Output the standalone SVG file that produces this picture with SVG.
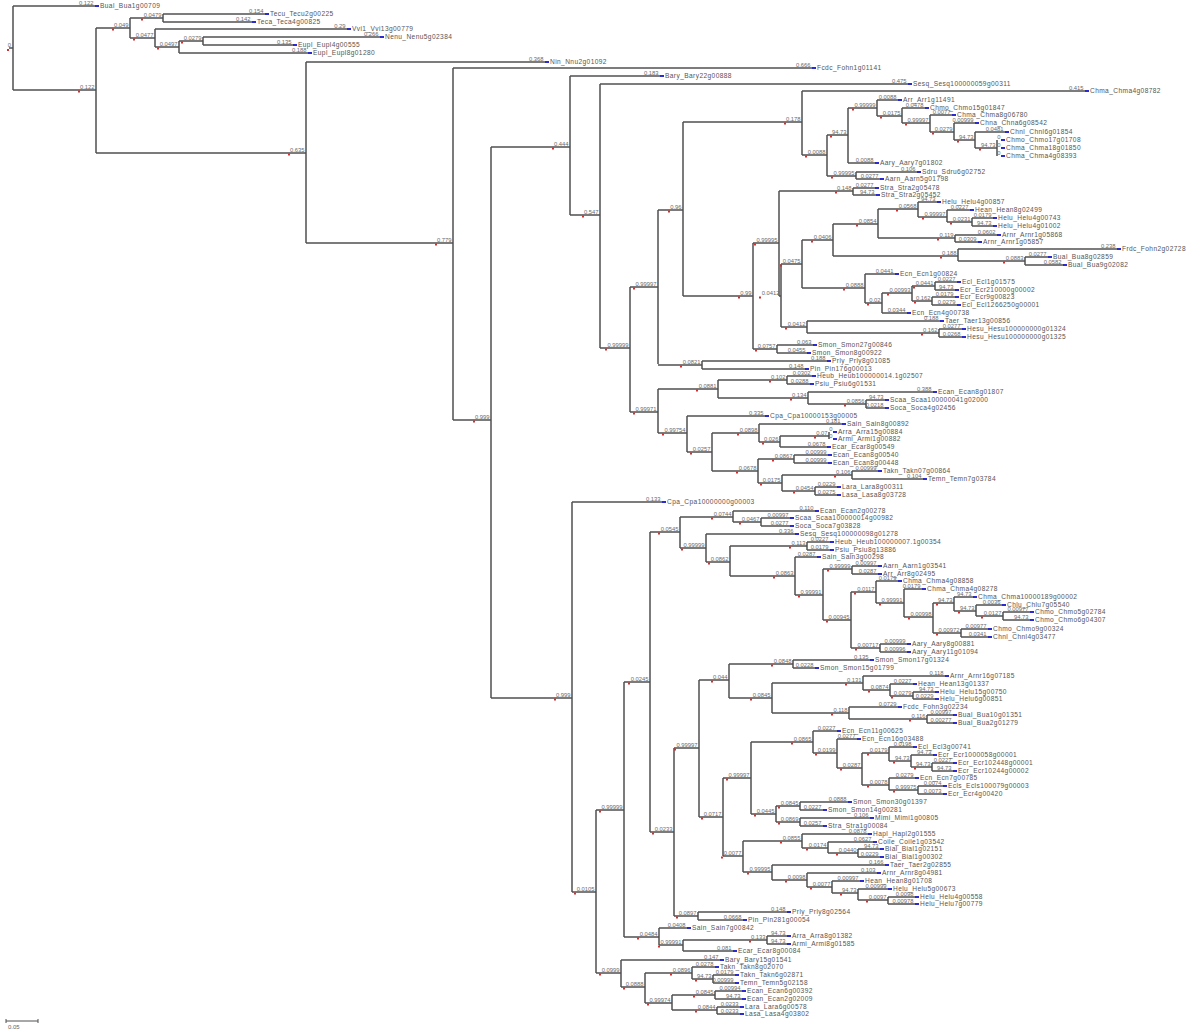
<svg xmlns="http://www.w3.org/2000/svg" width="1200" height="1032" viewBox="0 0 1200 1032">
<style>
.br{fill:none;stroke:#505050;stroke-width:1.5}
.bl{font-family:"Liberation Sans",Arial,sans-serif;font-size:5.8px;fill:#6a6a6a;text-anchor:end}
.ln{font-family:"Liberation Sans",Arial,sans-serif;font-size:6.6px;fill:#555;letter-spacing:0.4px}
.nd{fill:#d03030;width:2px;height:2px}
.lm{fill:#2a2ad0;width:4px;height:2px}
</style>
<rect width="1200" height="1032" fill="#fff"/>
<g id="connectors" class="br">
<path d="M9 48H13M13 6V90"/>
<path d="M13 90H96M96 28V153"/>
<path d="M96 28H130M130 18V38"/>
<path d="M130 18H163M163 14V22"/>
<path d="M130 38H155M155 29V47"/>
<path d="M155 47H179M179 41V53"/>
<path d="M179 41H203M203 37V45"/>
<path d="M96 153H306M306 62V243"/>
<path d="M306 243H453M453 68V420"/>
<path d="M453 420H491M491 147V698"/>
<path d="M491 147H570M570 76V215"/>
<path d="M570 215H600M600 84V348"/>
<path d="M600 348H630M630 287V412"/>
<path d="M630 287H658M658 210V364"/>
<path d="M658 210H683M683 122V296"/>
<path d="M683 122H802M802 91V155"/>
<path d="M802 155H827M827 135V176"/>
<path d="M827 135H848M848 108V163"/>
<path d="M848 108H877M877 100V116"/>
<path d="M877 116H902M902 108V123"/>
<path d="M902 123H930M930 115V132"/>
<path d="M930 132H954M954 123V140"/>
<path d="M954 140H975M975 132V148"/>
<path d="M975 148H997M997 140V156"/>
<path d="M827 176H856M856 172V179"/>
<path d="M683 296H753M753 243V349"/>
<path d="M753 243H779M779 191V296"/>
<path d="M779 191H853M853 188V195"/>
<path d="M779 296H781M781 264V327"/>
<path d="M781 264H802M802 240V288"/>
<path d="M802 240H833M833 224V256"/>
<path d="M833 224H878M878 209V238"/>
<path d="M878 209H918M918 202V217"/>
<path d="M918 217H947M947 210V222"/>
<path d="M947 222H972M972 218V226"/>
<path d="M878 238H955M955 235V242"/>
<path d="M833 256H958M958 249V261"/>
<path d="M958 261H1025M1025 257V265"/>
<path d="M802 288H865M865 274V303"/>
<path d="M865 303H882M882 293V313"/>
<path d="M882 293H912M912 286V301"/>
<path d="M912 286H935M935 282V290"/>
<path d="M912 301H932M932 297V305"/>
<path d="M781 327H807M807 321V333"/>
<path d="M807 333H939M939 329V337"/>
<path d="M753 349H777M777 345V353"/>
<path d="M658 365H702M702 361V369"/>
<path d="M630 412H658M658 389V433"/>
<path d="M658 389H718M718 380V398"/>
<path d="M718 380H787M787 376V384"/>
<path d="M718 398H808M808 392V404"/>
<path d="M808 404H866M866 400V408"/>
<path d="M658 433H687M687 416V452"/>
<path d="M687 452H712M712 433V471"/>
<path d="M712 433H759M759 424V442"/>
<path d="M759 442H780M780 436V447"/>
<path d="M780 436H829M829 432V439"/>
<path d="M712 471H758M758 459V483"/>
<path d="M758 459H794M794 455V463"/>
<path d="M758 483H782M782 475V491"/>
<path d="M782 475H852M852 471V479"/>
<path d="M782 491H815M815 487V495"/>
<path d="M491 698H572M572 502V892"/>
<path d="M572 892H596M596 810V973"/>
<path d="M596 810H624M624 682V937"/>
<path d="M624 682H650M650 532V832"/>
<path d="M650 532H680M680 517V548"/>
<path d="M680 517H733M733 511V522"/>
<path d="M733 522H761M761 518V526"/>
<path d="M680 548H706M706 534V562"/>
<path d="M706 562H730M730 546V576"/>
<path d="M730 546H807M807 542V550"/>
<path d="M730 576H795M795 557V595"/>
<path d="M795 595H823M823 569V620"/>
<path d="M823 569H852M852 566V574"/>
<path d="M823 620H851M851 592V648"/>
<path d="M851 592H876M876 581V603"/>
<path d="M876 603H904M904 589V617"/>
<path d="M904 617H933M933 603V633"/>
<path d="M933 603H954M954 597V611"/>
<path d="M954 611H976M976 605V616"/>
<path d="M976 616H1003M1003 612V620"/>
<path d="M933 633H961M961 629V637"/>
<path d="M851 648H880M880 644V652"/>
<path d="M650 832H674M674 748V916"/>
<path d="M674 748H699M699 680V817"/>
<path d="M699 680H729M729 664V698"/>
<path d="M729 664H793M793 660V668"/>
<path d="M729 698H772M772 683V713"/>
<path d="M772 683H863M863 676V690"/>
<path d="M863 690H890M890 684V696"/>
<path d="M890 696H913M913 692V699"/>
<path d="M772 713H849M849 707V719"/>
<path d="M849 719H927M927 715V723"/>
<path d="M699 817H723M723 778V856"/>
<path d="M723 778H751M751 742V814"/>
<path d="M751 742H813M813 731V753"/>
<path d="M813 753H837M837 739V768"/>
<path d="M837 768H862M862 753V785"/>
<path d="M862 753H889M889 747V761"/>
<path d="M889 761H911M911 755V767"/>
<path d="M911 767H932M932 763V771"/>
<path d="M862 785H889M889 778V790"/>
<path d="M889 790H918M918 786V794"/>
<path d="M751 814H776M776 806V822"/>
<path d="M776 806H800M800 802V810"/>
<path d="M776 822H800M800 818V826"/>
<path d="M723 856H743M743 841V872"/>
<path d="M743 841H802M802 834V848"/>
<path d="M802 848H828M828 842V853"/>
<path d="M828 853H858M858 849V857"/>
<path d="M743 872H772M772 865V880"/>
<path d="M772 880H807M807 873V887"/>
<path d="M807 887H832M832 881V893"/>
<path d="M832 893H858M858 889V900"/>
<path d="M858 900H888M888 897V904"/>
<path d="M674 916H698M698 912V920"/>
<path d="M624 937H659M659 928V945"/>
<path d="M659 945H683M683 940V951"/>
<path d="M683 940H767M767 936V944"/>
<path d="M596 973H621M621 960V987"/>
<path d="M621 987H645M645 973V1003"/>
<path d="M645 973H692M692 967V979"/>
<path d="M692 979H713M713 975V983"/>
<path d="M645 1003H672M672 995V1010"/>
<path d="M672 995H715M715 991V999"/>
<path d="M672 1010H717M717 1007V1014"/>
<path d="M13 6H95"/><path d="M163 14H265"/><path d="M163 22H252"/><path d="M155 29H347"/>
<path d="M203 37H380"/><path d="M203 45H293"/><path d="M179 53H308"/><path d="M306 62H545"/>
<path d="M453 68H812"/><path d="M570 76H660"/><path d="M600 84H908"/><path d="M802 91H1085"/>
<path d="M877 100H898"/><path d="M902 108H925"/><path d="M930 115H952"/><path d="M954 123H975"/>
<path d="M975 132H1005"/><path d="M848 163H875"/><path d="M856 172H917"/><path d="M856 179H880"/>
<path d="M853 188H875"/><path d="M853 195H876"/><path d="M918 202H937"/><path d="M947 210H970"/>
<path d="M972 218H993"/><path d="M972 226H993"/><path d="M955 235H997"/><path d="M955 242H978"/>
<path d="M958 249H1117"/><path d="M1025 257H1048"/><path d="M1025 265H1063"/><path d="M865 274H895"/>
<path d="M935 282H957"/><path d="M935 290H955"/><path d="M932 297H955"/><path d="M932 305H957"/>
<path d="M882 313H907"/><path d="M807 321H940"/><path d="M939 329H962"/><path d="M939 337H962"/>
<path d="M777 345H813"/><path d="M777 353H807"/><path d="M702 361H827"/><path d="M702 369H805"/>
<path d="M787 376H812"/><path d="M787 384H810"/><path d="M808 392H933"/><path d="M866 400H885"/>
<path d="M866 408H885"/><path d="M687 416H765"/><path d="M759 424H842"/><path d="M780 447H827"/>
<path d="M794 455H828"/><path d="M794 463H828"/><path d="M852 471H878"/><path d="M852 479H923"/>
<path d="M815 487H837"/><path d="M815 495H837"/><path d="M572 502H662"/><path d="M733 511H815"/>
<path d="M761 518H790"/><path d="M761 526H790"/><path d="M706 534H795"/><path d="M807 542H830"/>
<path d="M807 550H830"/><path d="M795 557H817"/><path d="M852 566H878"/><path d="M852 574H878"/>
<path d="M876 581H898"/><path d="M904 589H922"/><path d="M954 597H973"/><path d="M976 605H1002"/>
<path d="M1003 612H1030"/><path d="M1003 620H1030"/><path d="M961 629H988"/><path d="M961 637H988"/>
<path d="M880 644H907"/><path d="M880 652H907"/><path d="M793 660H870"/><path d="M793 668H815"/>
<path d="M863 676H945"/><path d="M890 684H913"/><path d="M913 692H935"/><path d="M913 699H935"/>
<path d="M849 707H898"/><path d="M927 715H953"/><path d="M927 723H953"/><path d="M813 731H837"/>
<path d="M837 739H857"/><path d="M889 747H913"/><path d="M911 755H933"/><path d="M932 763H953"/>
<path d="M932 771H953"/><path d="M889 778H915"/><path d="M918 786H943"/><path d="M918 794H943"/>
<path d="M800 802H848"/><path d="M800 810H823"/><path d="M800 818H870"/><path d="M800 826H823"/>
<path d="M802 834H868"/><path d="M828 842H873"/><path d="M858 849H880"/><path d="M858 857H880"/>
<path d="M772 865H885"/><path d="M807 873H877"/><path d="M832 881H860"/><path d="M858 889H888"/>
<path d="M888 897H915"/><path d="M888 904H915"/><path d="M698 912H787"/><path d="M698 920H743"/>
<path d="M659 928H687"/><path d="M767 936H787"/><path d="M767 944H787"/><path d="M683 951H733"/>
<path d="M621 960H720"/><path d="M692 967H715"/><path d="M713 975H735"/><path d="M713 983H735"/>
<path d="M715 991H742"/><path d="M715 999H742"/><path d="M717 1007H740"/><path d="M717 1014H740"/>
</g>
<g id="internal-nodes">
<g id="root"><rect class="nd" x="7" y="49"/><text class="bl" x="11" y="47">0</text></g>
<g id="nA"><rect class="nd" x="78" y="90.5"/><text class="bl" x="94.5" y="88.5">0.122</text></g>
<g id="nB"><rect class="nd" x="112" y="28.5"/><text class="bl" x="128.5" y="26.5">0.049</text></g>
<g id="nB1"><rect class="nd" x="141" y="18.5"/><text class="bl" x="161.5" y="16.5">0.0479</text></g>
<g id="nB2"><rect class="nd" x="133" y="38.5"/><text class="bl" x="153.5" y="36.5">0.0477</text></g>
<g id="nB3"><rect class="nd" x="157" y="47.5"/><text class="bl" x="177.5" y="45.5">0.0497</text></g>
<g id="nB4"><rect class="nd" x="181" y="41.5"/><text class="bl" x="201.5" y="39.5">0.0279</text></g>
<g id="nC"><rect class="nd" x="288" y="153.5"/><text class="bl" x="304.5" y="151.5">0.635</text></g>
<g id="nD"><rect class="nd" x="435" y="243.5"/><text class="bl" x="451.5" y="241.5">0.779</text></g>
<g id="nE"><rect class="nd" x="473" y="420.5"/><text class="bl" x="489.5" y="418.5">0.999</text></g>
<g id="nF"><rect class="nd" x="552" y="147.5"/><text class="bl" x="568.5" y="145.5">0.444</text></g>
<g id="nH"><rect class="nd" x="582" y="215.5"/><text class="bl" x="598.5" y="213.5">0.547</text></g>
<g id="nI"><rect class="nd" x="605" y="348.5"/><text class="bl" x="628.5" y="346.5">0.99999</text></g>
<g id="nJ"><rect class="nd" x="633" y="287.5"/><text class="bl" x="656.5" y="285.5">0.99997</text></g>
<g id="nL"><rect class="nd" x="668" y="210.5"/><text class="bl" x="681.5" y="208.5">0.96</text></g>
<g id="nN"><rect class="nd" x="784" y="122.5"/><text class="bl" x="800.5" y="120.5">0.178</text></g>
<g id="nN1"><rect class="nd" x="805" y="155.5"/><text class="bl" x="825.5" y="153.5">0.0088</text></g>
<g id="nN2"><rect class="nd" x="830" y="135.5"/><text class="bl" x="846.5" y="133.5">94.73</text></g>
<g id="nN4"><rect class="nd" x="852" y="108.5"/><text class="bl" x="875.5" y="106.5">0.99999</text></g>
<g id="nN5"><rect class="nd" x="880" y="116.5"/><text class="bl" x="900.5" y="114.5">0.0175</text></g>
<g id="nN6"><rect class="nd" x="905" y="123.5"/><text class="bl" x="928.5" y="121.5">0.99997</text></g>
<g id="nN7"><rect class="nd" x="932" y="132.5"/><text class="bl" x="952.5" y="130.5">0.0279</text></g>
<g id="nN8"><rect class="nd" x="957" y="140.5"/><text class="bl" x="973.5" y="138.5">94.73</text></g>
<g id="nN9"><rect class="nd" x="979" y="148.5"/><text class="bl" x="995.5" y="146.5">94.73</text></g>
<g id="nN3"><rect class="nd" x="831" y="176.5"/><text class="bl" x="854.5" y="174.5">0.99995</text></g>
<g id="nO"><rect class="nd" x="738" y="296.5"/><text class="bl" x="751.5" y="294.5">0.99</text></g>
<g id="nP"><rect class="nd" x="754" y="243.5"/><text class="bl" x="777.5" y="241.5">0.99995</text></g>
<g id="nPs"><rect class="nd" x="835" y="191.5"/><text class="bl" x="851.5" y="189.5">0.148</text></g>
<g id="nP2"><rect class="nd" x="759" y="296.5"/><text class="bl" x="779.5" y="294.5">0.0412</text></g>
<g id="nQ"><rect class="nd" x="780" y="264.5"/><text class="bl" x="800.5" y="262.5">0.0475</text></g>
<g id="nQ1"><rect class="nd" x="811" y="240.5"/><text class="bl" x="831.5" y="238.5">0.0406</text></g>
<g id="nQ2"><rect class="nd" x="856" y="224.5"/><text class="bl" x="876.5" y="222.5">0.0854</text></g>
<g id="nQ3"><rect class="nd" x="896" y="209.5"/><text class="bl" x="916.5" y="207.5">0.0568</text></g>
<g id="nQ4"><rect class="nd" x="922" y="217.5"/><text class="bl" x="945.5" y="215.5">0.99997</text></g>
<g id="nQ5"><rect class="nd" x="950" y="222.5"/><text class="bl" x="970.5" y="220.5">0.0231</text></g>
<g id="nQ6"><rect class="nd" x="937" y="238.5"/><text class="bl" x="953.5" y="236.5">0.119</text></g>
<g id="nQ7"><rect class="nd" x="940" y="256.5"/><text class="bl" x="956.5" y="254.5">0.188</text></g>
<g id="nQ8"><rect class="nd" x="1003" y="261.5"/><text class="bl" x="1023.5" y="259.5">0.0883</text></g>
<g id="nR1"><rect class="nd" x="843" y="288.5"/><text class="bl" x="863.5" y="286.5">0.0888</text></g>
<g id="nR2"><rect class="nd" x="867" y="303.5"/><text class="bl" x="880.5" y="301.5">0.02</text></g>
<g id="nR3"><rect class="nd" x="887" y="293.5"/><text class="bl" x="910.5" y="291.5">0.00993</text></g>
<g id="nR4"><rect class="nd" x="913" y="286.5"/><text class="bl" x="933.5" y="284.5">0.0441</text></g>
<g id="nR5"><rect class="nd" x="914" y="301.5"/><text class="bl" x="930.5" y="299.5">0.162</text></g>
<g id="nP3"><rect class="nd" x="785" y="327.5"/><text class="bl" x="805.5" y="325.5">0.0412</text></g>
<g id="nP4"><rect class="nd" x="921" y="333.5"/><text class="bl" x="937.5" y="331.5">0.162</text></g>
<g id="nS"><rect class="nd" x="755" y="349.5"/><text class="bl" x="775.5" y="347.5">0.0757</text></g>
<g id="nM"><rect class="nd" x="680" y="365.5"/><text class="bl" x="700.5" y="363.5">0.0821</text></g>
<g id="nK"><rect class="nd" x="633" y="412.5"/><text class="bl" x="656.5" y="410.5">0.99971</text></g>
<g id="nK1"><rect class="nd" x="696" y="389.5"/><text class="bl" x="716.5" y="387.5">0.0881</text></g>
<g id="nK2"><rect class="nd" x="769" y="380.5"/><text class="bl" x="785.5" y="378.5">0.102</text></g>
<g id="nK3"><rect class="nd" x="790" y="398.5"/><text class="bl" x="806.5" y="396.5">0.134</text></g>
<g id="nK3b"><rect class="nd" x="844" y="404.5"/><text class="bl" x="864.5" y="402.5">0.0856</text></g>
<g id="nK4"><rect class="nd" x="662" y="433.5"/><text class="bl" x="685.5" y="431.5">0.99754</text></g>
<g id="nK5"><rect class="nd" x="690" y="452.5"/><text class="bl" x="710.5" y="450.5">0.0257</text></g>
<g id="nK6"><rect class="nd" x="737" y="433.5"/><text class="bl" x="757.5" y="431.5">0.0898</text></g>
<g id="nK8"><rect class="nd" x="762" y="442.5"/><text class="bl" x="778.5" y="440.5">0.026</text></g>
<g id="nK9"><rect class="nd" x="814" y="436.5"/><text class="bl" x="827.5" y="434.5">0.07</text></g>
<g id="nK7"><rect class="nd" x="736" y="471.5"/><text class="bl" x="756.5" y="469.5">0.0678</text></g>
<g id="nK10"><rect class="nd" x="772" y="459.5"/><text class="bl" x="792.5" y="457.5">0.0867</text></g>
<g id="nK11"><rect class="nd" x="760" y="483.5"/><text class="bl" x="780.5" y="481.5">0.0175</text></g>
<g id="nK12"><rect class="nd" x="834" y="475.5"/><text class="bl" x="850.5" y="473.5">0.106</text></g>
<g id="nK13"><rect class="nd" x="793" y="491.5"/><text class="bl" x="813.5" y="489.5">0.0454</text></g>
<g id="nG"><rect class="nd" x="554" y="698.5"/><text class="bl" x="570.5" y="696.5">0.999</text></g>
<g id="nZ1"><rect class="nd" x="574" y="892.5"/><text class="bl" x="594.5" y="890.5">0.0105</text></g>
<g id="nZ2"><rect class="nd" x="599" y="810.5"/><text class="bl" x="622.5" y="808.5">0.99999</text></g>
<g id="nZ3"><rect class="nd" x="628" y="682.5"/><text class="bl" x="648.5" y="680.5">0.0245</text></g>
<g id="nZ4"><rect class="nd" x="658" y="532.5"/><text class="bl" x="678.5" y="530.5">0.0545</text></g>
<g id="nZ5"><rect class="nd" x="711" y="517.5"/><text class="bl" x="731.5" y="515.5">0.0744</text></g>
<g id="nZ6"><rect class="nd" x="739" y="522.5"/><text class="bl" x="759.5" y="520.5">0.0467</text></g>
<g id="nZ7"><rect class="nd" x="681" y="548.5"/><text class="bl" x="704.5" y="546.5">0.99999</text></g>
<g id="nZ8"><rect class="nd" x="708" y="562.5"/><text class="bl" x="728.5" y="560.5">0.0862</text></g>
<g id="nZ9"><rect class="nd" x="789" y="546.5"/><text class="bl" x="805.5" y="544.5">0.113</text></g>
<g id="nZ10"><rect class="nd" x="773" y="576.5"/><text class="bl" x="793.5" y="574.5">0.0863</text></g>
<g id="nZ11"><rect class="nd" x="798" y="595.5"/><text class="bl" x="821.5" y="593.5">0.99991</text></g>
<g id="nZ12"><rect class="nd" x="827" y="569.5"/><text class="bl" x="850.5" y="567.5">0.99999</text></g>
<g id="nZ13"><rect class="nd" x="826" y="620.5"/><text class="bl" x="849.5" y="618.5">0.00945</text></g>
<g id="nZ14"><rect class="nd" x="854" y="592.5"/><text class="bl" x="874.5" y="590.5">0.0117</text></g>
<g id="nZ15"><rect class="nd" x="879" y="603.5"/><text class="bl" x="902.5" y="601.5">0.99991</text></g>
<g id="nZ16"><rect class="nd" x="908" y="617.5"/><text class="bl" x="931.5" y="615.5">0.00998</text></g>
<g id="nZ17"><rect class="nd" x="936" y="603.5"/><text class="bl" x="952.5" y="601.5">94.73</text></g>
<g id="nZ18"><rect class="nd" x="958" y="611.5"/><text class="bl" x="974.5" y="609.5">94.73</text></g>
<g id="nZ19"><rect class="nd" x="981" y="616.5"/><text class="bl" x="1001.5" y="614.5">0.0127</text></g>
<g id="nZ20"><rect class="nd" x="936" y="633.5"/><text class="bl" x="959.5" y="631.5">0.00972</text></g>
<g id="nZ21"><rect class="nd" x="855" y="648.5"/><text class="bl" x="878.5" y="646.5">0.00717</text></g>
<g id="nZ22"><rect class="nd" x="652" y="832.5"/><text class="bl" x="672.5" y="830.5">0.0233</text></g>
<g id="nZ23"><rect class="nd" x="674" y="748.5"/><text class="bl" x="697.5" y="746.5">0.99997</text></g>
<g id="nZ24"><rect class="nd" x="711" y="680.5"/><text class="bl" x="727.5" y="678.5">0.044</text></g>
<g id="nZ25"><rect class="nd" x="771" y="664.5"/><text class="bl" x="791.5" y="662.5">0.0848</text></g>
<g id="nZ26"><rect class="nd" x="750" y="698.5"/><text class="bl" x="770.5" y="696.5">0.0845</text></g>
<g id="nZ27"><rect class="nd" x="845" y="683.5"/><text class="bl" x="861.5" y="681.5">0.131</text></g>
<g id="nZ28"><rect class="nd" x="868" y="690.5"/><text class="bl" x="888.5" y="688.5">0.0874</text></g>
<g id="nZ29"><rect class="nd" x="891" y="696.5"/><text class="bl" x="911.5" y="694.5">0.0279</text></g>
<g id="nZ30"><rect class="nd" x="831" y="713.5"/><text class="bl" x="847.5" y="711.5">0.118</text></g>
<g id="nZ31"><rect class="nd" x="909" y="719.5"/><text class="bl" x="925.5" y="717.5">0.116</text></g>
<g id="nZ32"><rect class="nd" x="701" y="817.5"/><text class="bl" x="721.5" y="815.5">0.0717</text></g>
<g id="nZ33"><rect class="nd" x="726" y="778.5"/><text class="bl" x="749.5" y="776.5">0.99997</text></g>
<g id="nZ34"><rect class="nd" x="791" y="742.5"/><text class="bl" x="811.5" y="740.5">0.0865</text></g>
<g id="nZ35"><rect class="nd" x="815" y="753.5"/><text class="bl" x="835.5" y="751.5">0.0199</text></g>
<g id="nZ36"><rect class="nd" x="840" y="768.5"/><text class="bl" x="860.5" y="766.5">0.0287</text></g>
<g id="nZ37"><rect class="nd" x="867" y="753.5"/><text class="bl" x="887.5" y="751.5">0.0179</text></g>
<g id="nZ38"><rect class="nd" x="893" y="761.5"/><text class="bl" x="909.5" y="759.5">94.73</text></g>
<g id="nZ39"><rect class="nd" x="914" y="767.5"/><text class="bl" x="930.5" y="765.5">94.73</text></g>
<g id="nZ40"><rect class="nd" x="867" y="785.5"/><text class="bl" x="887.5" y="783.5">0.0078</text></g>
<g id="nZ41"><rect class="nd" x="893" y="790.5"/><text class="bl" x="916.5" y="788.5">0.99975</text></g>
<g id="nZ42"><rect class="nd" x="754" y="814.5"/><text class="bl" x="774.5" y="812.5">0.0445</text></g>
<g id="nZ43"><rect class="nd" x="778" y="806.5"/><text class="bl" x="798.5" y="804.5">0.0845</text></g>
<g id="nZ44"><rect class="nd" x="778" y="822.5"/><text class="bl" x="798.5" y="820.5">0.0869</text></g>
<g id="nZ45"><rect class="nd" x="721" y="856.5"/><text class="bl" x="741.5" y="854.5">0.0077</text></g>
<g id="nZ46"><rect class="nd" x="780" y="841.5"/><text class="bl" x="800.5" y="839.5">0.0855</text></g>
<g id="nZ47"><rect class="nd" x="806" y="848.5"/><text class="bl" x="826.5" y="846.5">0.0174</text></g>
<g id="nZ48"><rect class="nd" x="836" y="853.5"/><text class="bl" x="856.5" y="851.5">0.0440</text></g>
<g id="nZ49"><rect class="nd" x="747" y="872.5"/><text class="bl" x="770.5" y="870.5">0.99995</text></g>
<g id="nZ50"><rect class="nd" x="785" y="880.5"/><text class="bl" x="805.5" y="878.5">0.0098</text></g>
<g id="nZ51"><rect class="nd" x="810" y="887.5"/><text class="bl" x="830.5" y="885.5">0.0077</text></g>
<g id="nZ52"><rect class="nd" x="840" y="893.5"/><text class="bl" x="856.5" y="891.5">94.73</text></g>
<g id="nZ53"><rect class="nd" x="866" y="900.5"/><text class="bl" x="886.5" y="898.5">0.0097</text></g>
<g id="nZ54"><rect class="nd" x="676" y="916.5"/><text class="bl" x="696.5" y="914.5">0.0897</text></g>
<g id="nZ55"><rect class="nd" x="637" y="937.5"/><text class="bl" x="657.5" y="935.5">0.0484</text></g>
<g id="nZ56"><rect class="nd" x="658" y="945.5"/><text class="bl" x="681.5" y="943.5">0.99991</text></g>
<g id="nZ57"><rect class="nd" x="749" y="940.5"/><text class="bl" x="765.5" y="938.5">0.133</text></g>
<g id="nZ58"><rect class="nd" x="599" y="973.5"/><text class="bl" x="619.5" y="971.5">0.0999</text></g>
<g id="nZ59"><rect class="nd" x="623" y="987.5"/><text class="bl" x="643.5" y="985.5">0.0888</text></g>
<g id="nZ60"><rect class="nd" x="670" y="973.5"/><text class="bl" x="690.5" y="971.5">0.0896</text></g>
<g id="nZ61"><rect class="nd" x="695" y="979.5"/><text class="bl" x="711.5" y="977.5">94.73</text></g>
<g id="nZ62"><rect class="nd" x="647" y="1003.5"/><text class="bl" x="670.5" y="1001.5">0.99974</text></g>
<g id="nZ63"><rect class="nd" x="693" y="995.5"/><text class="bl" x="713.5" y="993.5">0.0845</text></g>
<g id="nZ64"><rect class="nd" x="695" y="1010.5"/><text class="bl" x="715.5" y="1008.5">0.0844</text></g>
</g>
<g id="leaves">
<g id="L1"><text class="bl" x="93.5" y="4.5">0.122</text><rect class="lm" x="95" y="5"/><text class="ln" x="100" y="8.3">Bual_Bua1g00709</text></g>
<g id="L2"><text class="bl" x="263.5" y="12.5">0.154</text><rect class="lm" x="265" y="13"/><text class="ln" x="270" y="16.3">Tecu_Tecu2g00225</text></g>
<g id="L3"><text class="bl" x="250.5" y="20.5">0.142</text><rect class="lm" x="252" y="21"/><text class="ln" x="257" y="24.3">Teca_Teca4g00825</text></g>
<g id="L4"><text class="bl" x="345.5" y="27.5">0.29</text><rect class="lm" x="347" y="28"/><text class="ln" x="352" y="31.3">Vvi1_Vvi13g00779</text></g>
<g id="L5"><text class="bl" x="378.5" y="35.5">0.266</text><rect class="lm" x="380" y="36"/><text class="ln" x="385" y="39.3">Nenu_Nenu5g02384</text></g>
<g id="L6"><text class="bl" x="291.5" y="43.5">0.135</text><rect class="lm" x="293" y="44"/><text class="ln" x="298" y="47.3">Eupl_Eupl4g00555</text></g>
<g id="L7"><text class="bl" x="306.5" y="51.5">0.188</text><rect class="lm" x="308" y="52"/><text class="ln" x="313" y="55.3">Eupl_Eupl8g01280</text></g>
<g id="L8"><text class="bl" x="543.5" y="60.5">0.368</text><rect class="lm" x="545" y="61"/><text class="ln" x="550" y="64.3">Nin_Nnu2g01092</text></g>
<g id="L9"><text class="bl" x="810.5" y="66.5">0.666</text><rect class="lm" x="812" y="67"/><text class="ln" x="817" y="70.3">Fcdc_Fohn1g01141</text></g>
<g id="L10"><text class="bl" x="658.5" y="74.5">0.183</text><rect class="lm" x="660" y="75"/><text class="ln" x="665" y="78.3">Bary_Bary22g00888</text></g>
<g id="L11"><text class="bl" x="906.5" y="82.5">0.475</text><rect class="lm" x="908" y="83"/><text class="ln" x="913" y="86.3">Sesq_Sesq100000059g00311</text></g>
<g id="L12"><text class="bl" x="1083.5" y="89.5">0.415</text><rect class="lm" x="1085" y="90"/><text class="ln" x="1090" y="93.3">Chma_Chma4g08782</text></g>
<g id="L13"><text class="bl" x="896.5" y="98.5">0.0088</text><rect class="lm" x="898" y="99"/><text class="ln" x="903" y="102.3">Arr_Arr1g11491</text></g>
<g id="L14"><text class="bl" x="923.5" y="107.3">0.0478</text><rect class="lm" x="925" y="107"/><text class="ln" x="930" y="110.3">Chmo_Chmo15g01847</text></g>
<g id="L15"><text class="bl" x="950.5" y="113.5">0.0077</text><rect class="lm" x="952" y="114"/><text class="ln" x="957" y="117.3">Chma_Chma8g06780</text></g>
<g id="L16"><text class="bl" x="973.5" y="121.5">0.00999</text><rect class="lm" x="975" y="122"/><text class="ln" x="980" y="125.3">Chna_Chna6g08542</text></g>
<g id="L17"><text class="bl" x="1003.5" y="130.5">0.0481</text><rect class="lm" x="1005" y="131"/><text class="ln" x="1010" y="134.3">Chnl_Chnl6g01854</text></g>
<g id="L18"><text class="bl" x="1000.5" y="138.5">0</text><rect class="lm" x="1001" y="139"/><text class="ln" x="1006" y="142.3">Chmo_Chmo17g01708</text></g>
<g id="L19"><text class="bl" x="1000.5" y="146.5">0</text><rect class="lm" x="1001" y="147"/><text class="ln" x="1006" y="150.3">Chma_Chma18g01850</text></g>
<g id="L20"><text class="bl" x="1000.5" y="154.5">0</text><rect class="lm" x="1001" y="155"/><text class="ln" x="1006" y="158.3">Chma_Chma4g08393</text></g>
<g id="L21"><text class="bl" x="873.5" y="161.5">0.0088</text><rect class="lm" x="875" y="162"/><text class="ln" x="880" y="165.3">Aary_Aary7g01802</text></g>
<g id="L22"><text class="bl" x="915.5" y="170.5">0.106</text><rect class="lm" x="917" y="171"/><text class="ln" x="922" y="174.3">Sdru_Sdru6g02752</text></g>
<g id="L23"><text class="bl" x="878.5" y="177.5">0.0277</text><rect class="lm" x="880" y="178"/><text class="ln" x="885" y="181.3">Aarn_Aarn5g01798</text></g>
<g id="L24"><text class="bl" x="873.5" y="186.5">0.0277</text><rect class="lm" x="875" y="187"/><text class="ln" x="880" y="190.3">Stra_Stra2g05478</text></g>
<g id="L25"><text class="bl" x="874.5" y="193.5">94.73</text><rect class="lm" x="876" y="194"/><text class="ln" x="881" y="197.3">Stra_Stra2g05452</text></g>
<g id="L26"><text class="bl" x="935.5" y="201.3">94.73</text><rect class="lm" x="937" y="201"/><text class="ln" x="942" y="204.3">Helu_Helu4g00857</text></g>
<g id="L27"><text class="bl" x="968.5" y="208.5">0.0227</text><rect class="lm" x="970" y="209"/><text class="ln" x="975" y="212.3">Hean_Hean8g02499</text></g>
<g id="L28"><text class="bl" x="991.5" y="216.5">0.0179</text><rect class="lm" x="993" y="217"/><text class="ln" x="998" y="220.3">Helu_Helu4g00743</text></g>
<g id="L29"><text class="bl" x="991.5" y="224.5">94.73</text><rect class="lm" x="993" y="225"/><text class="ln" x="998" y="228.3">Helu_Helu4g01002</text></g>
<g id="L30"><text class="bl" x="995.5" y="233.5">0.0602</text><rect class="lm" x="997" y="234"/><text class="ln" x="1002" y="237.3">Arnr_Arnr1g05868</text></g>
<g id="L31"><text class="bl" x="976.5" y="240.5">0.0309</text><rect class="lm" x="978" y="241"/><text class="ln" x="983" y="244.3">Arnr_Arnr1g05857</text></g>
<g id="L32"><text class="bl" x="1115.5" y="247.5">0.238</text><rect class="lm" x="1117" y="248"/><text class="ln" x="1122" y="251.3">Frdc_Fohn2g02728</text></g>
<g id="L33"><text class="bl" x="1046.5" y="255.5">0.0277</text><rect class="lm" x="1048" y="256"/><text class="ln" x="1053" y="259.3">Bual_Bua8g02859</text></g>
<g id="L34"><text class="bl" x="1061.5" y="263.5">0.0582</text><rect class="lm" x="1063" y="264"/><text class="ln" x="1068" y="267.3">Bual_Bua9g02082</text></g>
<g id="L35"><text class="bl" x="893.5" y="272.5">0.0441</text><rect class="lm" x="895" y="273"/><text class="ln" x="900" y="276.3">Ecn_Ecn1g00824</text></g>
<g id="L36"><text class="bl" x="955.5" y="280.5">0.0227</text><rect class="lm" x="957" y="281"/><text class="ln" x="962" y="284.3">Ecl_Ecl1g01575</text></g>
<g id="L37"><text class="bl" x="953.5" y="288.5">94.73</text><rect class="lm" x="955" y="289"/><text class="ln" x="960" y="292.3">Ecr_Ecr210000g00002</text></g>
<g id="L38"><text class="bl" x="953.5" y="295.5">0.0179</text><rect class="lm" x="955" y="296"/><text class="ln" x="960" y="299.3">Ecr_Ecr9g00823</text></g>
<g id="L39"><text class="bl" x="955.5" y="303.5">0.0279</text><rect class="lm" x="957" y="304"/><text class="ln" x="962" y="307.3">Ecl_Ecl1266250g00001</text></g>
<g id="L40"><text class="bl" x="905.5" y="311.5">0.0344</text><rect class="lm" x="907" y="312"/><text class="ln" x="912" y="315.3">Ecn_Ecn4g00738</text></g>
<g id="L41"><text class="bl" x="938.5" y="319.5">0.188</text><rect class="lm" x="940" y="320"/><text class="ln" x="945" y="323.3">Taer_Taer13g00856</text></g>
<g id="L42"><text class="bl" x="960.5" y="327.5">0.0277</text><rect class="lm" x="962" y="328"/><text class="ln" x="967" y="331.3">Hesu_Hesu100000000g01324</text></g>
<g id="L43"><text class="bl" x="960.5" y="335.5">0.0268</text><rect class="lm" x="962" y="336"/><text class="ln" x="967" y="339.3">Hesu_Hesu100000000g01325</text></g>
<g id="L44"><text class="bl" x="811.5" y="343.5">0.063</text><rect class="lm" x="813" y="344"/><text class="ln" x="818" y="347.3">Smon_Smon27g00846</text></g>
<g id="L45"><text class="bl" x="805.5" y="351.5">0.0455</text><rect class="lm" x="807" y="352"/><text class="ln" x="812" y="355.3">Smon_Smon8g00922</text></g>
<g id="L46"><text class="bl" x="825.5" y="359.5">0.188</text><rect class="lm" x="827" y="360"/><text class="ln" x="832" y="363.3">Prly_Prly8g01085</text></g>
<g id="L47"><text class="bl" x="803.5" y="367.5">0.148</text><rect class="lm" x="805" y="368"/><text class="ln" x="810" y="371.3">Pin_Pin176g00013</text></g>
<g id="L48"><text class="bl" x="810.5" y="374.5">0.0302</text><rect class="lm" x="812" y="375"/><text class="ln" x="817" y="378.3">Heub_Heub100000014.1g02507</text></g>
<g id="L49"><text class="bl" x="808.5" y="382.5">0.0288</text><rect class="lm" x="810" y="383"/><text class="ln" x="815" y="386.3">Psiu_Psiu6g01531</text></g>
<g id="L50"><text class="bl" x="931.5" y="390.5">0.388</text><rect class="lm" x="933" y="391"/><text class="ln" x="938" y="394.3">Ecan_Ecan8g01807</text></g>
<g id="L51"><text class="bl" x="883.5" y="398.5">94.73</text><rect class="lm" x="885" y="399"/><text class="ln" x="890" y="402.3">Scaa_Scaa100000041g02000</text></g>
<g id="L52"><text class="bl" x="883.5" y="406.5">0.0218</text><rect class="lm" x="885" y="407"/><text class="ln" x="890" y="410.3">Soca_Soca4g02456</text></g>
<g id="L53"><text class="bl" x="763.5" y="414.5">0.335</text><rect class="lm" x="765" y="415"/><text class="ln" x="770" y="418.3">Cpa_Cpa10000153g00005</text></g>
<g id="L54"><text class="bl" x="840.5" y="422.5">0.181</text><rect class="lm" x="842" y="423"/><text class="ln" x="847" y="426.3">Sain_Sain8g00892</text></g>
<g id="L55"><text class="bl" x="832.5" y="430.5">0</text><rect class="lm" x="833" y="431"/><text class="ln" x="838" y="434.3">Arra_Arra15g00884</text></g>
<g id="L56"><text class="bl" x="832.5" y="437.5">0</text><rect class="lm" x="833" y="438"/><text class="ln" x="838" y="441.3">Armi_Armi1g00882</text></g>
<g id="L57"><text class="bl" x="825.5" y="445.5">0.0678</text><rect class="lm" x="827" y="446"/><text class="ln" x="832" y="449.3">Ecar_Ecar8g00549</text></g>
<g id="L58"><text class="bl" x="826.5" y="453.5">0.00999</text><rect class="lm" x="828" y="454"/><text class="ln" x="833" y="457.3">Ecan_Ecan8g00540</text></g>
<g id="L59"><text class="bl" x="826.5" y="461.5">0.00999</text><rect class="lm" x="828" y="462"/><text class="ln" x="833" y="465.3">Ecan_Ecan8g00448</text></g>
<g id="L60"><text class="bl" x="876.5" y="469.5">0.00999</text><rect class="lm" x="878" y="470"/><text class="ln" x="883" y="473.3">Takn_Takn07g00864</text></g>
<g id="L61"><text class="bl" x="921.5" y="477.5">0.104</text><rect class="lm" x="923" y="478"/><text class="ln" x="928" y="481.3">Temn_Temn7g03784</text></g>
<g id="L62"><text class="bl" x="835.5" y="485.5">0.0229</text><rect class="lm" x="837" y="486"/><text class="ln" x="842" y="489.3">Lara_Lara8g00311</text></g>
<g id="L63"><text class="bl" x="835.5" y="493.5">0.0275</text><rect class="lm" x="837" y="494"/><text class="ln" x="842" y="497.3">Lasa_Lasa8g03728</text></g>
<g id="L64"><text class="bl" x="660.5" y="500.5">0.133</text><rect class="lm" x="662" y="501"/><text class="ln" x="667" y="504.3">Cpa_Cpa10000000g00003</text></g>
<g id="L65"><text class="bl" x="813.5" y="509.5">0.110</text><rect class="lm" x="815" y="510"/><text class="ln" x="820" y="513.3">Ecan_Ecan2g00278</text></g>
<g id="L66"><text class="bl" x="788.5" y="516.5">0.00997</text><rect class="lm" x="790" y="517"/><text class="ln" x="795" y="520.3">Scaa_Scaa100000014g00982</text></g>
<g id="L67"><text class="bl" x="788.5" y="524.5">0.0277</text><rect class="lm" x="790" y="525"/><text class="ln" x="795" y="528.3">Soca_Soca7g03828</text></g>
<g id="L68"><text class="bl" x="793.5" y="532.5">0.336</text><rect class="lm" x="795" y="533"/><text class="ln" x="800" y="536.3">Sesq_Sesq100000098g01278</text></g>
<g id="L69"><text class="bl" x="828.5" y="540.5">0.0227</text><rect class="lm" x="830" y="541"/><text class="ln" x="835" y="544.3">Heub_Heub100000007.1g00354</text></g>
<g id="L70"><text class="bl" x="828.5" y="548.5">0.0179</text><rect class="lm" x="830" y="549"/><text class="ln" x="835" y="552.3">Psiu_Psiu8g13886</text></g>
<g id="L71"><text class="bl" x="815.5" y="555.5">0.0287</text><rect class="lm" x="817" y="556"/><text class="ln" x="822" y="559.3">Sain_Sain3g00298</text></g>
<g id="L72"><text class="bl" x="876.5" y="564.5">0.00997</text><rect class="lm" x="878" y="565"/><text class="ln" x="883" y="568.3">Aarn_Aarn1g03541</text></g>
<g id="L73"><text class="bl" x="876.5" y="572.5">0.0287</text><rect class="lm" x="878" y="573"/><text class="ln" x="883" y="576.3">Arr_Arr8g02495</text></g>
<g id="L74"><text class="bl" x="896.5" y="579.5">0.0179</text><rect class="lm" x="898" y="580"/><text class="ln" x="903" y="583.3">Chma_Chma4g08858</text></g>
<g id="L75"><text class="bl" x="920.5" y="587.5">0.0179</text><rect class="lm" x="922" y="588"/><text class="ln" x="927" y="591.3">Chma_Chma4g08278</text></g>
<g id="L76"><text class="bl" x="971.5" y="595.5">94.73</text><rect class="lm" x="973" y="596"/><text class="ln" x="978" y="599.3">Chma_Chma10000189g00002</text></g>
<g id="L77"><text class="bl" x="1000.5" y="603.5">0.0036</text><rect class="lm" x="1002" y="604"/><text class="ln" x="1007" y="607.3">Chlu_Chlu7g05540</text></g>
<g id="L78"><text class="bl" x="1028.5" y="611.3">0.00977</text><rect class="lm" x="1030" y="611"/><text class="ln" x="1035" y="614.3">Chmo_Chmo5g02784</text></g>
<g id="L79"><text class="bl" x="1028.5" y="618.5">94.73</text><rect class="lm" x="1030" y="619"/><text class="ln" x="1035" y="622.3">Chmo_Chmo6g04307</text></g>
<g id="L80"><text class="bl" x="986.5" y="627.5">0.00977</text><rect class="lm" x="988" y="628"/><text class="ln" x="993" y="631.3">Chmo_Chmo9g00324</text></g>
<g id="L81"><text class="bl" x="986.5" y="635.5">0.0341</text><rect class="lm" x="988" y="636"/><text class="ln" x="993" y="639.3">Chnl_Chnl4g03477</text></g>
<g id="L82"><text class="bl" x="905.5" y="642.5">0.00999</text><rect class="lm" x="907" y="643"/><text class="ln" x="912" y="646.3">Aary_Aary8g00881</text></g>
<g id="L83"><text class="bl" x="905.5" y="650.5">0.00996</text><rect class="lm" x="907" y="651"/><text class="ln" x="912" y="654.3">Aary_Aary11g01094</text></g>
<g id="L84"><text class="bl" x="868.5" y="658.5">0.135</text><rect class="lm" x="870" y="659"/><text class="ln" x="875" y="662.3">Smon_Smon17g01324</text></g>
<g id="L85"><text class="bl" x="813.5" y="666.5">0.0228</text><rect class="lm" x="815" y="667"/><text class="ln" x="820" y="670.3">Smon_Smon15g01799</text></g>
<g id="L86"><text class="bl" x="943.5" y="674.5">0.118</text><rect class="lm" x="945" y="675"/><text class="ln" x="950" y="678.3">Arnr_Arnr16g07185</text></g>
<g id="L87"><text class="bl" x="911.5" y="682.5">0.0227</text><rect class="lm" x="913" y="683"/><text class="ln" x="918" y="686.3">Hean_Hean13g01337</text></g>
<g id="L88"><text class="bl" x="933.5" y="690.5">94.73</text><rect class="lm" x="935" y="691"/><text class="ln" x="940" y="694.3">Helu_Helu15g00750</text></g>
<g id="L89"><text class="bl" x="933.5" y="697.5">0.0229</text><rect class="lm" x="935" y="698"/><text class="ln" x="940" y="701.3">Helu_Helu6g00851</text></g>
<g id="L90"><text class="bl" x="896.5" y="705.5">0.0729</text><rect class="lm" x="898" y="706"/><text class="ln" x="903" y="709.3">Fcdc_Fohn3g02234</text></g>
<g id="L91"><text class="bl" x="951.5" y="713.5">0.00997</text><rect class="lm" x="953" y="714"/><text class="ln" x="958" y="717.3">Bual_Bua10g01351</text></g>
<g id="L92"><text class="bl" x="951.5" y="721.5">0.00277</text><rect class="lm" x="953" y="722"/><text class="ln" x="958" y="725.3">Bual_Bua2g01279</text></g>
<g id="L93"><text class="bl" x="835.5" y="729.5">0.0227</text><rect class="lm" x="837" y="730"/><text class="ln" x="842" y="733.3">Ecn_Ecn11g00625</text></g>
<g id="L94"><text class="bl" x="855.5" y="737.5">0.0277</text><rect class="lm" x="857" y="738"/><text class="ln" x="862" y="741.3">Ecn_Ecn16g03488</text></g>
<g id="L95"><text class="bl" x="911.5" y="745.5">0.0198</text><rect class="lm" x="913" y="746"/><text class="ln" x="918" y="749.3">Ecl_Ecl3g00741</text></g>
<g id="L96"><text class="bl" x="931.5" y="753.5">94.73</text><rect class="lm" x="933" y="754"/><text class="ln" x="938" y="757.3">Ecr_Ecr1000058g00001</text></g>
<g id="L97"><text class="bl" x="951.5" y="761.5">0.0227</text><rect class="lm" x="953" y="762"/><text class="ln" x="958" y="765.3">Ecr_Ecr102448g00001</text></g>
<g id="L98"><text class="bl" x="951.5" y="769.5">94.73</text><rect class="lm" x="953" y="770"/><text class="ln" x="958" y="773.3">Ecr_Ecr10244g00002</text></g>
<g id="L99"><text class="bl" x="913.5" y="776.5">0.0279</text><rect class="lm" x="915" y="777"/><text class="ln" x="920" y="780.3">Ecn_Ecn7g00785</text></g>
<g id="L100"><text class="bl" x="941.5" y="784.5">0.0074</text><rect class="lm" x="943" y="785"/><text class="ln" x="948" y="788.3">Ecls_Ecls100079g00003</text></g>
<g id="L101"><text class="bl" x="941.5" y="792.5">0.0073</text><rect class="lm" x="943" y="793"/><text class="ln" x="948" y="796.3">Ecr_Ecr4g00420</text></g>
<g id="L102"><text class="bl" x="846.5" y="800.5">0.0888</text><rect class="lm" x="848" y="801"/><text class="ln" x="853" y="804.3">Smon_Smon30g01397</text></g>
<g id="L103"><text class="bl" x="821.5" y="808.5">0.0227</text><rect class="lm" x="823" y="809"/><text class="ln" x="828" y="812.3">Smon_Smon14g00281</text></g>
<g id="L104"><text class="bl" x="868.5" y="816.5">0.106</text><rect class="lm" x="870" y="817"/><text class="ln" x="875" y="820.3">Mimi_Mimi1g00805</text></g>
<g id="L105"><text class="bl" x="821.5" y="824.5">0.0257</text><rect class="lm" x="823" y="825"/><text class="ln" x="828" y="828.3">Stra_Stra1g00084</text></g>
<g id="L106"><text class="bl" x="866.5" y="832.5">0.0878</text><rect class="lm" x="868" y="833"/><text class="ln" x="873" y="836.3">Hapl_Hapl2g01555</text></g>
<g id="L107"><text class="bl" x="871.5" y="840.5">0.0627</text><rect class="lm" x="873" y="841"/><text class="ln" x="878" y="844.3">Coile_Coile1g03542</text></g>
<g id="L108"><text class="bl" x="878.5" y="847.5">94.73</text><rect class="lm" x="880" y="848"/><text class="ln" x="885" y="851.3">Bial_Bial1g02151</text></g>
<g id="L109"><text class="bl" x="878.5" y="855.5">0.0229</text><rect class="lm" x="880" y="856"/><text class="ln" x="885" y="859.3">Bial_Bial1g00302</text></g>
<g id="L110"><text class="bl" x="883.5" y="863.5">0.166</text><rect class="lm" x="885" y="864"/><text class="ln" x="890" y="867.3">Taer_Taer2g02855</text></g>
<g id="L111"><text class="bl" x="875.5" y="871.5">0.103</text><rect class="lm" x="877" y="872"/><text class="ln" x="882" y="875.3">Arnr_Arnr8g04981</text></g>
<g id="L112"><text class="bl" x="858.5" y="879.5">0.00997</text><rect class="lm" x="860" y="880"/><text class="ln" x="865" y="883.3">Hean_Hean8g01708</text></g>
<g id="L113"><text class="bl" x="886.5" y="887.5">0.00999</text><rect class="lm" x="888" y="888"/><text class="ln" x="893" y="891.3">Helu_Helu5g00673</text></g>
<g id="L114"><text class="bl" x="913.5" y="895.5">0.0098</text><rect class="lm" x="915" y="896"/><text class="ln" x="920" y="899.3">Helu_Helu4g00558</text></g>
<g id="L115"><text class="bl" x="913.5" y="902.5">0.00978</text><rect class="lm" x="915" y="903"/><text class="ln" x="920" y="906.3">Helu_Helu7g00779</text></g>
<g id="L116"><text class="bl" x="785.5" y="910.5">0.148</text><rect class="lm" x="787" y="911"/><text class="ln" x="792" y="914.3">Prly_Prly8g02564</text></g>
<g id="L117"><text class="bl" x="741.5" y="918.5">0.0668</text><rect class="lm" x="743" y="919"/><text class="ln" x="748" y="922.3">Pin_Pin281g00054</text></g>
<g id="L118"><text class="bl" x="685.5" y="926.5">0.0408</text><rect class="lm" x="687" y="927"/><text class="ln" x="692" y="930.3">Sain_Sain7g00842</text></g>
<g id="L119"><text class="bl" x="785.5" y="934.5">94.73</text><rect class="lm" x="787" y="935"/><text class="ln" x="792" y="938.3">Arra_Arra8g01382</text></g>
<g id="L120"><text class="bl" x="785.5" y="942.5">94.73</text><rect class="lm" x="787" y="943"/><text class="ln" x="792" y="946.3">Armi_Armi8g01585</text></g>
<g id="L121"><text class="bl" x="731.5" y="949.5">0.081</text><rect class="lm" x="733" y="950"/><text class="ln" x="738" y="953.3">Ecar_Ecar8g00084</text></g>
<g id="L122"><text class="bl" x="718.5" y="958.5">0.147</text><rect class="lm" x="720" y="959"/><text class="ln" x="725" y="962.3">Bary_Bary15g01541</text></g>
<g id="L123"><text class="bl" x="713.5" y="965.5">0.0278</text><rect class="lm" x="715" y="966"/><text class="ln" x="720" y="969.3">Takn_Takn8g02070</text></g>
<g id="L124"><text class="bl" x="733.5" y="973.5">0.0179</text><rect class="lm" x="735" y="974"/><text class="ln" x="740" y="977.3">Takn_Takn6g02871</text></g>
<g id="L125"><text class="bl" x="733.5" y="981.5">0.00999</text><rect class="lm" x="735" y="982"/><text class="ln" x="740" y="985.3">Temn_Temn5g02158</text></g>
<g id="L126"><text class="bl" x="740.5" y="989.5">0.00994</text><rect class="lm" x="742" y="990"/><text class="ln" x="747" y="993.3">Ecan_Ecan6g00392</text></g>
<g id="L127"><text class="bl" x="740.5" y="997.5">94.73</text><rect class="lm" x="742" y="998"/><text class="ln" x="747" y="1001.3">Ecan_Ecan2g02009</text></g>
<g id="L128"><text class="bl" x="738.5" y="1005.5">0.0233</text><rect class="lm" x="740" y="1006"/><text class="ln" x="745" y="1009.3">Lara_Lara6g00578</text></g>
<g id="L129"><text class="bl" x="738.5" y="1012.5">0.0233</text><rect class="lm" x="740" y="1013"/><text class="ln" x="745" y="1016.3">Lasa_Lasa4g03802</text></g>
</g>
<g id="scale-bar">
<path d="M6 1021H38M6 1019V1023M38 1019V1023" fill="none" stroke="#505050" stroke-width="1"/>
<text x="8" y="1029" style="font-family:'Liberation Sans',Arial,sans-serif;font-size:6px;fill:#666">0.05</text>
</g>
</svg>
